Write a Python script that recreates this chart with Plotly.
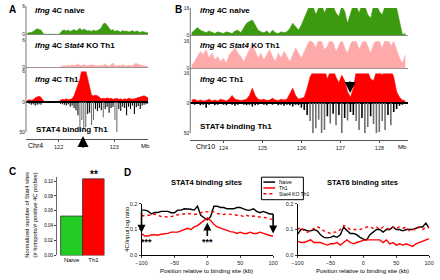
import numpy as np
import plotly.graph_objects as go

W, H = 440, 280
FONT = "Liberation Sans, Arial, sans-serif"

# ---------------- DATA ----------------
# Panel A: Chr4 window (Mb), bins
A_start, A_step = 121.42, 0.035
A_naive = [0.3,0.3,0.4,0.6,1.0,1.2,1.0,0.9,0.2,0,0,0,0,0,0,0,0,0.3,0.8,0.9,0.7,0.9,0.6,0.8,1.0,0.7,0.9,1.3,0.8,1.1,0.9,0.7,0.8,0.6,0.9,0.7,0.8,1.0,1.4,2.2,2.4,1.8,1.3,0.8,1.0,0.6,0.8,0.7,0.5,0.8,0.6,0.7,0.5,0.6,0.8,0.5,0.7,0.6,0.4,0.6,0.5,0.4,0.3]
A_ko = [0,0,0,0,0,0,0,0,0,0,0,0,0,0,0,0,0,0.2,0.3,0.4,0.3,0.5,0.4,0.6,0.4,0.5,0.8,0.5,0.4,0.6,0.5,0.4,0.5,0.6,0.5,0.4,0.3,0.5,0.4,0.5,0.7,0.4,0.3,0.6,1.0,0.4,0.3,0.5,0.4,0.6,0.4,0.3,0.5,0.4,0.3,0.8,0.9,0.7,0.6,0.5,0.4,0.2,0.2]
A_th1 = [0.3,0.4,0.3,0.4,0.8,1.0,1.1,0.9,0.3,0,0,0,0,0,0,0,0,0.3,0.5,0.4,0.6,0.4,0.5,0.6,1.2,2.2,3.5,4.5,6.5,7.0,6.2,4.5,2.5,1.3,1.2,1.3,1.2,0.8,0.6,0.7,0.6,0.8,0.6,0.7,0.5,0.6,0.7,0.5,0.6,0.4,0.6,0.5,0.7,0.6,0.5,0.6,0.7,0.8,0.9,1.1,1.2,1.0,0.8]
A_stat4 = [0,3,5,4,6,5,4,5,0,0,0,0,0,0,0,0,0,3,4,5,6,4,8,6,10,14,22,50,30,45,42,20,18,38,30,12,15,10,14,26,12,8,18,10,8,30,50,12,15,8,10,22,8,12,6,20,9,7,12,6,5,4,3]

# Panel B: Chr10 window (Mb), bins
B_start, B_step = 123.15, 0.074
B_naive = [1.5,3,4.5,3,2,1.5,2.5,1.5,1,2,1.5,1,2,1.5,1,2.5,3,1.5,4,7,8,9,6,3,2,1.5,2.5,1,3,1.5,1,2,1.5,2,4,7,5,3,6,10,14,18,17,12,16,18,13,17,18,17,13,11,17,14,7,12,18,17,13,18,17,12,10,17,18,14,12,17,18,18,17,16,8,0.5,1]
B_ko = [2,4,7,10,8,11,6,9,5,7,4,6,3,8,10,12,9,7,4,8,11,14,10,6,9,5,8,11,7,4,9,6,10,7,4,8,12,9,6,10,14,17,15,12,17,16,11,13,17,15,10,14,17,12,9,14,17,16,11,15,17,13,9,14,17,16,12,17,17,13,16,11,6,3,8]
B_th1 = [1.5,2,1,1.5,1,1.2,2,1,1.5,1,2,1.5,1,2,4,2,1.5,1.2,1.5,2,4,8,4,2,1.5,2,1.2,1.5,2.5,1.5,1.2,2,1.5,2,5,8,4,2,2.5,3,8,14,17,18,17,16,18,13,17,18,14,11,15,12,6,3,8,17,18,16,18,17,13,12,17,18,15,18,17,18,14,6,3,1.5,1]
B_stat4 = [2,3,2,4,3,8,3,2,4,3,2,3,4,2,3,5,3,2,3,4,3,6,4,3,2,3,4,2,3,2,4,3,5,3,4,6,3,4,8,12,20,30,50,42,28,50,45,22,34,18,37,20,50,25,29,15,20,30,45,25,50,40,22,35,50,48,30,45,20,37,15,10,5,3,2]

# Panel C
C_groups = ["Naive", "Th1"]
C_values = [0.053, 0.103]

# Panel D
D_pos = [-100,-95,-90,-85,-80,-75,-70,-65,-60,-55,-50,-45,-40,-35,-30,-25,-20,-15,-10,-5,0,5,10,15,20,25,30,35,40,45,50,55,60,65,70,75,80,85,90,95,100]
S4_naive = [0.175,0.175,0.171,0.16,0.166,0.166,0.17,0.17,0.17,0.165,0.165,0.175,0.175,0.18,0.18,0.178,0.175,0.19,0.155,0.145,0.137,0.15,0.19,0.19,0.185,0.185,0.18,0.18,0.18,0.185,0.185,0.18,0.175,0.175,0.18,0.17,0.165,0.17,0.165,0.16,0.16]
S4_th1 = [0.084,0.075,0.075,0.08,0.08,0.078,0.082,0.083,0.085,0.09,0.09,0.09,0.095,0.1,0.105,0.1,0.11,0.115,0.125,0.135,0.145,0.135,0.12,0.11,0.105,0.1,0.095,0.092,0.09,0.085,0.09,0.085,0.085,0.09,0.085,0.085,0.09,0.085,0.08,0.077,0.075]
S4_ko = [0.155,0.152,0.155,0.155,0.16,0.155,0.15,0.15,0.148,0.15,0.153,0.155,0.16,0.16,0.163,0.16,0.158,0.16,0.165,0.17,0.168,0.17,0.168,0.162,0.16,0.158,0.16,0.16,0.158,0.155,0.155,0.15,0.155,0.15,0.152,0.15,0.148,0.145,0.145,0.14,0.14]
S6_naive = [0.081,0.1,0.1,0.095,0.095,0.1,0.095,0.08,0.07,0.068,0.07,0.075,0.07,0.08,0.109,0.095,0.085,0.085,0.08,0.07,0.063,0.06,0.08,0.09,0.1,0.1,0.09,0.1,0.1,0.11,0.1,0.1,0.095,0.1,0.1,0.1,0.105,0.11,0.11,0.125,0.105]
S6_th1 = [0.055,0.05,0.05,0.055,0.06,0.05,0.05,0.05,0.045,0.04,0.045,0.045,0.05,0.04,0.05,0.06,0.05,0.045,0.05,0.055,0.058,0.06,0.06,0.06,0.06,0.06,0.05,0.06,0.045,0.05,0.04,0.045,0.04,0.045,0.04,0.035,0.045,0.05,0.055,0.06,0.065]
S6_ko = [0.1,0.11,0.095,0.09,0.095,0.105,0.11,0.105,0.095,0.09,0.085,0.09,0.09,0.1,0.115,0.11,0.1,0.1,0.1,0.1,0.105,0.11,0.11,0.105,0.11,0.1,0.11,0.105,0.1,0.11,0.105,0.11,0.105,0.11,0.095,0.1,0.1,0.11,0.1,0.11,0.11]

# ---------------- HELPERS ----------------
def px(x):
    return x / W

def py(y):
    return 1 - y / H

def dom(top, bottom):
    return [py(bottom), py(top)]

GREEN = "#3c9a0e"
PINK = "#ffaaaa"
RED = "#ff0000"

fig = go.Figure()

A_x = A_start + A_step * (np.arange(len(A_naive)) + 0.5)
B_x = B_start + B_step * (np.arange(len(B_naive)) + 0.5)

def area(xs, ys, color, xa, ya):
    fig.add_trace(go.Scatter(x=xs, y=ys, mode="lines", fill="tozeroy",
                             line=dict(color=color, width=0.6), fillcolor=color,
                             xaxis=xa, yaxis=ya, showlegend=False, hoverinfo="skip"))

def spikes(xs, vals, step, xa, ya):
    vals = np.array(vals, dtype=float)
    cols = ["#6e6e6e" if v > 25 else "#000000" for v in vals]
    fig.add_trace(go.Bar(x=xs, y=-vals, width=step * 0.55, marker=dict(color=cols, line=dict(width=0)),
                         xaxis=xa, yaxis=ya, showlegend=False, hoverinfo="skip"))

area(A_x, A_naive, GREEN, "x", "y")
area(A_x, A_ko, PINK, "x", "y2")
area(A_x, A_th1, RED, "x", "y3")
spikes(A_x, A_stat4, A_step, "x", "y4")

area(B_x, B_naive, GREEN, "x2", "y5")
area(B_x, B_ko, PINK, "x2", "y6")
area(B_x, B_th1, RED, "x2", "y7")
spikes(B_x, B_stat4, B_step, "x2", "y8")

# Panel C
fig.add_trace(go.Bar(x=C_groups, y=C_values, width=1,
                     marker=dict(color=["#22cc22", RED], line=dict(color="#333333", width=0.8)),
                     xaxis="x3", yaxis="y9", showlegend=False, hoverinfo="skip"))

# Panel D
def dline(y, color, dash, xa, ya):
    fig.add_trace(go.Scatter(x=D_pos, y=y, mode="lines", line=dict(color=color, width=1.4, dash=dash),
                             xaxis=xa, yaxis=ya, showlegend=False, hoverinfo="skip"))

dline(S4_naive, "#000000", "solid", "x4", "y10")
dline(S4_ko, RED, "dot", "x4", "y10")
dline(S4_th1, RED, "solid", "x4", "y10")
dline(S6_naive, "#000000", "solid", "x5", "y11")
dline(S6_ko, RED, "dot", "x5", "y11")
dline(S6_th1, RED, "solid", "x5", "y11")

# ---------------- AXES ----------------
tickf = dict(family=FONT, size=5.5, color="#222")
trackf = dict(family=FONT, size=5, color="#222")

def track_y(top, bottom, rng, tv, tt, zc="#888888", zw=1):
    return dict(domain=dom(top, bottom), range=rng, tickvals=tv, ticktext=tt, tickfont=trackf,
                showgrid=False, showline=False, ticks="", zeroline=True, zerolinecolor=zc,
                zerolinewidth=zw, fixedrange=True, ticklen=0)

A_left, A_right = 20.5, 146
B_left, B_right = 189, 412
A_range = [122 - (54 - A_left) / 57.0, 122 + (A_right - 54) / 57.0]
B_range = [124 - (223 - B_left) / 40.0, 124 + (B_right - 223) / 40.0]

layout = dict(
    width=W, height=H, margin=dict(l=0, r=0, t=0, b=0),
    paper_bgcolor="white", plot_bgcolor="white", showlegend=False,
    font=dict(family=FONT, color="#000"),
    xaxis=dict(domain=[px(A_left), px(A_right)], range=A_range, anchor="free", position=py(139),
               showline=True, linecolor="#555", linewidth=1, tickvals=[122, 123], ticktext=["122", "123"],
               ticks="outside", ticklen=2, tickcolor="#555", tickfont=tickf, showgrid=False, zeroline=False),
    xaxis2=dict(domain=[px(B_left), px(B_right)], range=B_range, anchor="free", position=py(140),
                showline=True, linecolor="#555", linewidth=1, tickvals=[124, 125, 126, 127, 128],
                ticktext=["124", "125", "126", "127", "128"], ticks="outside", ticklen=2, tickcolor="#555",
                tickfont=tickf, showgrid=False, zeroline=False),
    yaxis=track_y(3, 32, [0, 6], [0, 6], ["0", "6"]),
    yaxis2=track_y(38, 66, [0, 6], [0, 6], ["0", "6"]),
    yaxis3=track_y(70, 101, [0, 6], [0, 6], ["0", "6"], "#000", 1.5),
    yaxis4=track_y(101, 132, [-50, 0], [-50], ["50"], "#000", 1.5),
    yaxis5=track_y(5, 33, [0, 16], [0, 16], ["0", "16"]),
    yaxis6=track_y(39, 67, [0, 16], [0, 16], ["0", "16"]),
    yaxis7=track_y(72, 102, [0, 16], [0, 16], ["0", "16"], "#000", 1.5),
    yaxis8=track_y(102, 133, [-50, 0], [-50], ["50"], "#000", 1.5),
    xaxis3=dict(domain=[px(52), px(101)], range=[-0.68, 1.5], anchor="y9", showline=False,
                ticks="", tickfont=dict(family=FONT, size=6), showgrid=False, zeroline=False, fixedrange=True),
    yaxis9=dict(domain=dom(258 - 0.105 * 760, 258), range=[0, 0.105], anchor="x3",
                tickvals=[0, 0.02, 0.04, 0.06, 0.08, 0.10], tickformat=".2f",
                tickfont=dict(family=FONT, size=4.5), showline=True, linecolor="#444", linewidth=0.8,
                ticks="outside", ticklen=2, tickcolor="#444", showgrid=False, zeroline=False),
    xaxis4=dict(domain=[px(139), px(274)], range=[-100, 100], anchor="y10",
                tickvals=[-100, -50, 0, 50, 100], tickfont=tickf, showline=True, linecolor="#000",
                linewidth=1, ticks="outside", ticklen=2, showgrid=False, zeroline=False),
    yaxis10=dict(domain=dom(205, 258), range=[0, 0.2], anchor="x4", tickvals=[0, 0.1, 0.2],
                 tickformat=".1f", tickfont=tickf, showline=True, linecolor="#000", linewidth=1,
                 ticks="outside", ticklen=2, showgrid=False, zeroline=False),
    xaxis5=dict(domain=[px(299), px(434)], range=[-100, 100], anchor="y11",
                tickvals=[-100, -50, 0, 50, 100], tickfont=tickf, showline=True, linecolor="#000",
                linewidth=1, ticks="outside", ticklen=2, showgrid=False, zeroline=False),
    yaxis11=dict(domain=dom(205, 258), range=[0, 0.2], anchor="x5", tickvals=[0, 0.1, 0.2],
                 tickformat=".1f", tickfont=tickf, showline=True, linecolor="#000", linewidth=1,
                 ticks="outside", ticklen=2, showgrid=False, zeroline=False),
)
for k in ["yaxis", "yaxis2", "yaxis3", "yaxis4"]:
    layout[k]["anchor"] = "x"
for k in ["yaxis5", "yaxis6", "yaxis7", "yaxis8"]:
    layout[k]["anchor"] = "x2"
fig.update_layout(**layout)

# ---------------- SHAPES ----------------
shapes = [
    dict(type="line", xref="paper", yref="paper", x0=px(A_left), x1=px(A_left), y0=py(3), y1=py(132),
         line=dict(color="#777", width=1)),
    dict(type="line", xref="paper", yref="paper", x0=px(B_left), x1=px(B_left), y0=py(5), y1=py(133),
         line=dict(color="#777", width=1)),
    # legend box
    dict(type="rect", xref="paper", yref="paper", x0=px(262), x1=px(305), y0=py(201), y1=py(178),
         line=dict(color="#000", width=1), fillcolor="white", layer="above"),
    dict(type="line", xref="paper", yref="paper", x0=px(264), x1=px(276), y0=py(183), y1=py(183),
         line=dict(color="#000", width=1.5)),
    dict(type="line", xref="paper", yref="paper", x0=px(264), x1=px(276), y0=py(189), y1=py(189),
         line=dict(color=RED, width=1.5)),
    dict(type="line", xref="paper", yref="paper", x0=px(264), x1=px(276), y0=py(195), y1=py(195),
         line=dict(color=RED, width=1.5, dash="dot")),
]
fig.update_layout(shapes=shapes)

# ---------------- ANNOTATIONS ----------------
ann = []

def txt(x, y, s, size, xanchor="left", bold=True, angle=0, color="#000"):
    ann.append(dict(x=px(x), y=py(y), xref="paper", yref="paper", text=("<b>%s</b>" % s) if bold else s,
                    showarrow=False, xanchor=xanchor, yanchor="middle", textangle=angle,
                    font=dict(family=FONT, size=size, color=color)))

txt(1, 7, "A", 10)
txt(171, 7, "B", 10)
txt(1, 172, "C", 10)
txt(119, 173, "D", 10)

txt(28, 8, "<i>Ifng</i> 4C naive", 8)
txt(28, 43, "<i>Ifng</i> 4C <i>Stat4</i> KO Th1", 8)
txt(28, 78, "<i>Ifng</i> 4C Th1", 8)
txt(29, 129, "STAT4 binding Th1", 8)
txt(197, 8, "<i>Ifng</i> 4C naive", 8)
txt(197, 43, "<i>Ifng</i> 4C <i>Stat4</i> KO Th1", 8)
txt(197, 78, "<i>Ifng</i> 4C Th1", 8)
txt(197, 126, "STAT4 binding Th1", 8)

txt(20, 146, "Chr4", 7, bold=False)
txt(143, 146, "Mb", 6, xanchor="center", bold=False)
txt(193, 147, "Chr10", 7, bold=False)
txt(407, 147, "Mb", 6, xanchor="center", bold=False)

txt(26, 216, "Normalized number of Stat4 sites<br>(# hotspots/# positive 4C probes)", 5.8,
    xanchor="center", bold=False, angle=-90)
txt(90, 175, "**", 10, xanchor="center")

txt(206, 183, "STAT4 binding sites", 7.5, xanchor="center")
txt(366, 183, "STAT6 binding sites", 7.5, xanchor="center")
txt(206, 274, "Position relative to binding site (kb)", 6, xanchor="center", bold=False)
txt(366, 274, "Position relative to binding site (kb)", 6, xanchor="center", bold=False)
txt(124, 231, "4C/input log ratio", 6, xanchor="center", bold=False, angle=-90)

txt(278, 183, "Naive", 5, bold=False)
txt(278, 189, "Th1", 5, bold=False)
txt(278, 195, "Stat4 KO Th1", 5, bold=False)

# stars in D
for xv in [-93, 0, 101]:
    ann.append(dict(x=xv, y=0.053, xref="x4", yref="y10", text="<b>***</b>", showarrow=False,
                    font=dict(family=FONT, size=9, color="#000"), xanchor="center", yanchor="middle"))

def arrow(x, y, xref, yref, ay, size=1.0, width=1.6):
    ann.append(dict(x=x, y=y, xref=xref, yref=yref, ax=0, ay=ay, axref="pixel", ayref="pixel",
                    text="", showarrow=True, arrowhead=2, arrowsize=size, arrowwidth=width,
                    arrowcolor="#000"))

arrow(-100, 0.088, "x4", "y10", -23)
arrow(0, 0.127, "x4", "y10", 15)
arrow(100, 0.085, "x4", "y10", -21)
arrow(122 + (79 - 54) / 57.0, py(136), "x", "paper", 13, 1.1, 2)
arrow(124 + (353 - 223) / 40.0, py(92), "x2", "paper", -13, 1.1, 2)

fig.update_layout(annotations=ann)
fig.write_html("out.html", config={"displayModeBar": False, "staticPlot": True},
               post_script="document.body.style.margin='0';document.body.style.padding='0';")
